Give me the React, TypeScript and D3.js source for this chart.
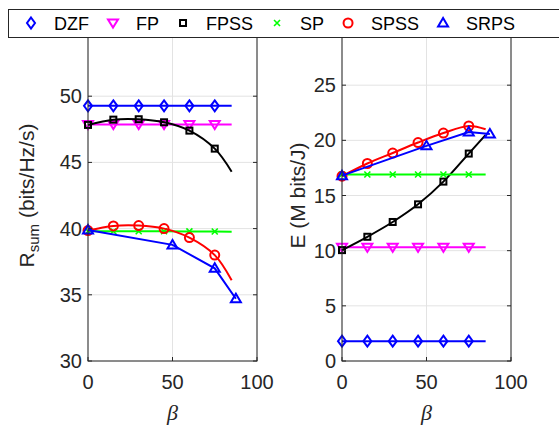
import React, { useRef, useEffect } from 'react';
import * as d3 from 'd3';

// beta samples (markers on the first six, last one only carries the line)
const beta = [0, 15, 30, 45, 60, 75, 85];
const betaSrps = [0, 50, 75, 87.5];

// sum rate (bits/Hz/s)
const dzfRate = [49.27, 49.27, 49.27, 49.27, 49.27, 49.27, 49.27];
const fpRate = [47.86, 47.86, 47.86, 47.86, 47.86, 47.86, 47.86];
const fpssRate = [47.83, 48.23, 48.26, 48.03, 47.4, 46.04, 44.3];
const spRate = [39.8, 39.8, 39.8, 39.8, 39.79, 39.78, 39.76];
const spssRate = [39.85, 40.2, 40.23, 40.0, 39.32, 38.0, 36.1];
const srpsRate = [39.9, 38.77, 37.0, 34.7];

// energy efficiency (M bits/J)
const dzfEE = [1.8, 1.8, 1.8, 1.8, 1.8, 1.8, 1.8];
const fpEE = [10.3, 10.3, 10.3, 10.3, 10.3, 10.3, 10.3];
const fpssEE = [10.05, 11.26, 12.6, 14.2, 16.26, 18.8, 20.5];
const spEE = [16.9, 16.9, 16.9, 16.9, 16.9, 16.9, 16.9];
const spssEE = [16.75, 17.9, 18.85, 19.8, 20.66, 21.3, 21.0];
const srpsEE = [16.8, 19.5, 20.75, 20.57];

const names = ['DZF', 'FP', 'FPSS', 'SP', 'SPSS', 'SRPS'];
const colors = ['#0000ff', '#ff00ff', '#000000', '#00ff00', '#ff0000', '#0000ff'];
const markers = ['diamond', 'tridown', 'square', 'cross', 'circle', 'triup'];

const xTicks = [0, 50, 100];
const rateTicks = [30, 35, 40, 45, 50, 55];
const eeTicks = [0, 5, 10, 15, 20, 25, 30];

const FONT = '"Liberation Sans", Arial, Helvetica, sans-serif';

function drawMarker(g, type, x, y, color) {
  const m = g.append('g').attr('transform', `translate(${x},${y})`)
    .attr('fill', 'none').attr('stroke', color).attr('stroke-width', 2);
  if (type === 'diamond') m.append('path').attr('d', 'M0,-5.5L4,0L0,5.5L-4,0Z');
  if (type === 'square') m.append('rect').attr('x', -3).attr('y', -3).attr('width', 6).attr('height', 6);
  if (type === 'circle') m.append('circle').attr('r', 4.5);
  if (type === 'tridown') m.append('path').attr('d', 'M-5,-3.5L5,-3.5L0,4.5Z');
  if (type === 'triup') m.append('path').attr('d', 'M-5,3.5L5,3.5L0,-5Z');
  if (type === 'cross') m.append('path').attr('d', 'M-3,-3L3,3M-3,3L3,-3').attr('stroke-width', 1.6);
}

const App = () => {
  const svgRef = useRef();
  useEffect(() => {
    const svg = d3.select(svgRef.current);
    svg.selectAll('*').remove();
    const top = 30, bottom = 361;

    const panels = [
      { left: 88, right: 257, domain: [30, 55], ticks: rateTicks, series: [dzfRate, fpRate, fpssRate, spRate, spssRate], srps: srpsRate, label: 'rate' },
      { left: 342, right: 511, domain: [0, 30], ticks: eeTicks, series: [dzfEE, fpEE, fpssEE, spEE, spssEE], srps: srpsEE, label: 'ee' },
    ];

    panels.forEach(p => {
      const x = d3.scaleLinear().domain([0, 100]).range([p.left, p.right]);
      const y = d3.scaleLinear().domain(p.domain).range([bottom, top]);
      const g = svg.append('g');

      // grid
      xTicks.forEach(t => g.append('line').attr('x1', x(t)).attr('x2', x(t)).attr('y1', top).attr('y2', bottom)
        .attr('stroke', '#e3e3e3').attr('stroke-width', 1));
      p.ticks.forEach(t => g.append('line').attr('x1', p.left).attr('x2', p.right).attr('y1', y(t)).attr('y2', y(t))
        .attr('stroke', '#e3e3e3').attr('stroke-width', 1));

      // lines
      const curveFor = i => (i === 2 || i === 4 ? d3.curveCatmullRom : d3.curveLinear);
      p.series.forEach((vals, i) => {
        const line = d3.line().x((d, j) => x(beta[j])).y(d => y(d)).curve(curveFor(i));
        g.append('path').attr('d', line(vals)).attr('fill', 'none').attr('stroke', colors[i]).attr('stroke-width', 2);
        vals.slice(0, 6).forEach((v, j) => drawMarker(g, markers[i], x(beta[j]), y(v), colors[i]));
      });
      const srpsLine = d3.line().x((d, j) => x(betaSrps[j])).y(d => y(d));
      g.append('path').attr('d', srpsLine(p.srps)).attr('fill', 'none').attr('stroke', colors[5]).attr('stroke-width', 2);
      p.srps.forEach((v, j) => drawMarker(g, markers[5], x(betaSrps[j]), y(v), colors[5]));

      // box
      g.append('rect').attr('x', p.left).attr('y', top).attr('width', p.right - p.left).attr('height', bottom - top)
        .attr('fill', 'none').attr('stroke', '#262626').attr('stroke-width', 1);
      // ticks
      xTicks.forEach(t => {
        g.append('line').attr('x1', x(t)).attr('x2', x(t)).attr('y1', bottom).attr('y2', bottom - 4).attr('stroke', '#262626');
        g.append('line').attr('x1', x(t)).attr('x2', x(t)).attr('y1', top).attr('y2', top + 4).attr('stroke', '#262626');
        g.append('text').attr('x', x(t)).attr('y', bottom + 28).attr('text-anchor', 'middle')
          .attr('font-family', FONT).attr('font-size', 20).attr('fill', '#262626').text(t);
      });
      p.ticks.forEach(t => {
        g.append('line').attr('x1', p.left).attr('x2', p.left + 4).attr('y1', y(t)).attr('y2', y(t)).attr('stroke', '#262626');
        g.append('line').attr('x1', p.right).attr('x2', p.right - 4).attr('y1', y(t)).attr('y2', y(t)).attr('stroke', '#262626');
        // the top label sits behind the legend box, so it is not shown
        if (t === p.domain[1]) return;
        g.append('text').attr('x', p.left - 6).attr('y', y(t) + 7).attr('text-anchor', 'end')
          .attr('font-family', FONT).attr('font-size', 20).attr('fill', '#262626').text(t);
      });

      // x label
      g.append('text').attr('x', x(50)).attr('y', 420).attr('text-anchor', 'middle')
        .attr('font-family', '"Liberation Serif", "Times New Roman", serif').attr('font-style', 'italic')
        .attr('font-size', 22).attr('fill', '#262626').text('β');

      // y label
      const cy = (top + bottom) / 2;
      if (p.label === 'rate') {
        const t = g.append('text').attr('transform', `translate(34,${cy}) rotate(-90)`).attr('text-anchor', 'middle')
          .attr('font-family', FONT).attr('font-size', 21).attr('fill', '#262626');
        t.append('tspan').text('R');
        t.append('tspan').attr('font-size', 15).attr('dy', 5).text('sum');
        t.append('tspan').attr('dy', -5).text(' (bits/Hz/s)');
      } else {
        g.append('text').attr('transform', `translate(305,${cy}) rotate(-90)`).attr('text-anchor', 'middle')
          .attr('font-family', FONT).attr('font-size', 21).attr('fill', '#262626').text('E (M bits/J)');
      }
    });

    // legend
    const lg = svg.append('g');
    lg.append('rect').attr('x', 8.5).attr('y', 9.5).attr('width', 560).attr('height', 28)
      .attr('fill', '#ffffff').attr('stroke', '#262626').attr('stroke-width', 1);
    let cx = 31;
    names.forEach((n, i) => {
      drawMarker(lg, markers[i], cx, 23, colors[i]);
      const t = lg.append('text').attr('x', cx + 23).attr('y', 30).attr('font-family', FONT)
        .attr('font-size', 18).attr('fill', '#000').text(n);
      cx += 23 + t.node().getComputedTextLength() + 24;
    });
  }, []);
  return <svg ref={svgRef} width={559} height={428} style={{ position: 'absolute', left: 0, top: 0, background: '#fff' }}></svg>;
};

export default App;
